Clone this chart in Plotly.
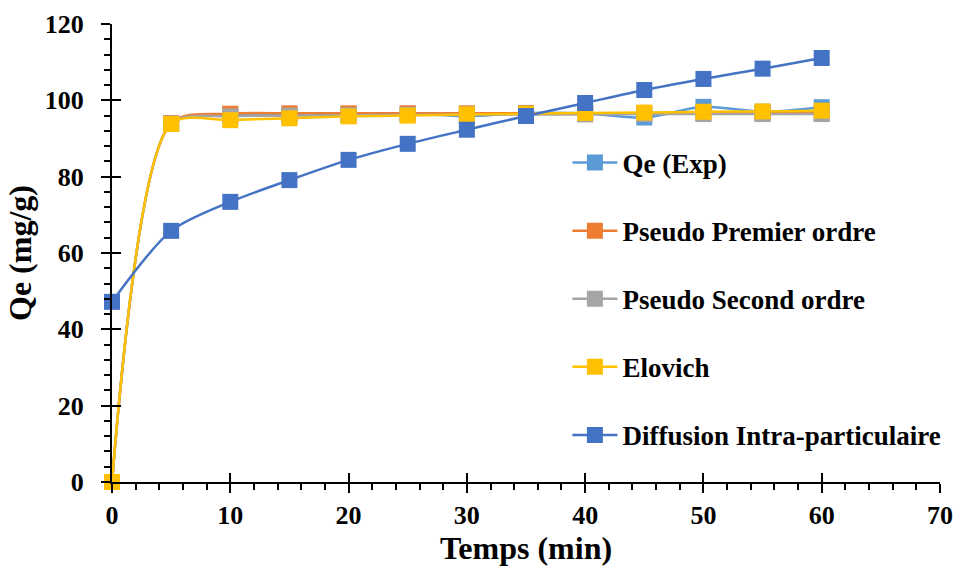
import plotly.graph_objects as go

temps = [0, 5, 10, 15, 20, 25, 30, 35, 40, 45, 50, 55, 60]
qe_exp = [0, 94.0, 96.0, 96.2, 96.4, 96.5, 95.9, 96.7, 96.6, 95.5, 98.3, 97.0, 98.2]
pseudo_premier = [0, 94.0, 96.5, 96.6, 96.6, 96.6, 96.6, 96.6, 96.6, 96.6, 96.6, 96.6, 96.6]
pseudo_second = [0, 93.9, 95.8, 96.0, 96.1, 96.2, 96.3, 96.3, 96.3, 96.4, 96.4, 96.4, 96.4]
elovich = [0, 93.8, 94.8, 95.3, 95.8, 96.0, 96.3, 96.5, 96.7, 96.8, 97.0, 97.1, 97.3]
diffusion = [47.2, 65.8, 73.4, 79.1, 84.4, 88.6, 92.3, 95.9, 99.3, 102.7, 105.6, 108.3, 111.1]

series = [
    ("Qe (Exp)", qe_exp, "#5B9BD5"),
    ("Pseudo Premier ordre", pseudo_premier, "#ED7D31"),
    ("Pseudo Second ordre", pseudo_second, "#A5A5A5"),
    ("Elovich", elovich, "#FFC000"),
    ("Diffusion Intra-particulaire", diffusion, "#4472C4"),
]

fig = go.Figure()
for i, (name, vals, col) in enumerate(series):
    fig.add_trace(go.Scatter(
        x=temps, y=vals, name=name, mode="lines+markers",
        line=dict(color=col, width=2.5, shape="spline", smoothing=0.8),
        marker=dict(symbol="square", size=16, color=col),
        legendgroup=f"g{i}", cliponaxis=False,
    ))

font_family = "Liberation Serif, Times New Roman, serif"
tickfont = dict(family=font_family, size=26, weight="bold", color="black")
titlefont = dict(family=font_family, size=32, weight="bold", color="black")

fig.update_layout(
    width=959, height=567,
    margin=dict(l=112, r=19, t=24, b=85),
    paper_bgcolor="white", plot_bgcolor="white",
    font=dict(family=font_family, size=22, color="black"),
    showlegend=True,
    legend=dict(
        x=0.55, y=0.75, xanchor="left", yanchor="top",
        font=dict(family=font_family, size=27, color="black", weight="bold"),
        tracegroupgap=30, bgcolor="rgba(0,0,0,0)", itemwidth=45,
    ),
    xaxis=dict(
        range=[0, 70], dtick=10, showgrid=False, zeroline=False, automargin=False,
        showline=True, linecolor="black", linewidth=2,
        ticks="outside", ticklen=9, tickwidth=2, tickcolor="black",
        tickfont=tickfont, ticklabelstandoff=0,
        minor=dict(dtick=2, ticks="outside", ticklen=6, tickwidth=1.5, tickcolor="black"),
        title=dict(text="Temps (min)", font=titlefont, standoff=6),
    ),
    yaxis=dict(
        range=[0, 120], dtick=20, showgrid=False, zeroline=False, automargin=False,
        showline=True, linecolor="black", linewidth=2,
        ticks="outside", ticklen=9, tickwidth=2, tickcolor="black",
        tickfont=tickfont, ticklabelstandoff=12,
        minor=dict(dtick=4, ticks="outside", ticklen=6, tickwidth=1.5, tickcolor="black"),
        title=dict(text="Qe (mg/g)", font=titlefont, standoff=4),
    ),
    xaxis2=dict(
        range=[0, 70], dtick=10, overlaying="x", side="bottom", anchor="y",
        showgrid=False, zeroline=False, showticklabels=False, automargin=False,
        ticks="inside", ticklen=9, tickwidth=2, tickcolor="black",
    ),
    yaxis2=dict(
        range=[0, 120], dtick=20, overlaying="y", side="left", anchor="x",
        showgrid=False, zeroline=False, showticklabels=False, automargin=False,
        ticks="inside", ticklen=9, tickwidth=2, tickcolor="black",
    ),
)
# invisible helper trace to activate the inner-tick axes
fig.add_trace(go.Scatter(x=[None], y=[None], xaxis="x2", yaxis="y2",
                         showlegend=False, hoverinfo="skip"))

fig.write_html("out.html", config={"displayModeBar": False},
               post_script="document.body.style.margin='0';")
